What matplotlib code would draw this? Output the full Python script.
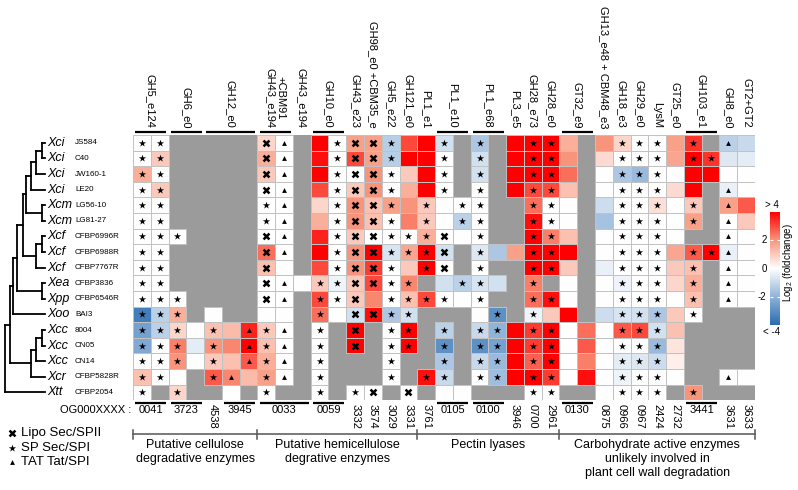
import numpy as np
import matplotlib
matplotlib.use('Agg')
import matplotlib.pyplot as plt
from matplotlib.colors import LinearSegmentedColormap, Normalize
from matplotlib.patches import Rectangle
import matplotlib.cm as cm

plt.rcParams['font.family'] = ['Liberation Sans', 'DejaVu Sans']
plt.rcParams['mathtext.fontset'] = 'custom'
plt.rcParams['mathtext.rm'] = 'Liberation Sans'

N = np.nan

species = ['Xci', 'Xci', 'Xci', 'Xci', 'Xcm', 'Xcm', 'Xcf', 'Xcf', 'Xcf', 'Xea', 'Xpp',
           'Xoo', 'Xcc', 'Xcc', 'Xcc', 'Xcr', 'Xtt']
strains = ['JS584', 'C40', 'JW160-1', 'LE20', 'LG56-10', 'LG81-27', 'CFBP6996R', 'CFBP6988R',
           'CFBP7767R', 'CFBP3836', 'CFBP6546R', 'BAI3', '8004', 'CN05', 'CN14', 'CFBP5828R',
           'CFBP2054']

family_labels = ['GH5_e124', 'GH6_e0', 'GH12_e0', '+CBM91\nGH43_e194', 'GH43_e194', 'GH10_e0',
                 'GH43_e23', 'GH98_e0 +CBM35_e', 'GH5_e22', 'GH121_e0', 'PL1_e1', 'PL1_e10',
                 'PL1_e68', 'PL3_e5', 'GH28_e73', 'GH28_e0', 'GT32_e9', 'GH13_e48 + CBM48_e3',
                 'GH18_e3', 'GH29_e0', 'LysM', 'GT25_e0', 'GH103_e1', 'GH8_e0', 'GT2+GT2']
family_widths = [2, 2, 3, 2, 1, 2, 1, 1, 1, 1, 1, 2, 2, 1, 1, 1, 2, 1, 1, 1, 1, 1, 2, 1, 1]

og_labels = ['0041', '3723', '4538', '3945', '0033', '0059', '3332', '3574', '3029', '3331',
             '3761', '0105', '0100', '3946', '0700', '2961', '0130', '0875', '0966', '0967',
             '2424', '2732', '3441', '3631', '3633']
og_widths = [2, 2, 1, 2, 3, 2, 1, 1, 1, 1, 1, 2, 2, 1, 1, 1, 2, 1, 1, 1, 1, 1, 2, 1, 1]

category_labels = ['Putative cellulose\ndegradative enzymes',
                   'Putative hemicellulose\ndegrative enzymes',
                   'Pectin lyases',
                   'Carbohydrate active enzymes\nunlikely involved in\nplant cell wall degradation']
category_widths = [7, 9, 8, 11]

# log2(fold change), NaN = gene absent (grey)
log2fc = np.array([
    [0, 0, N, N, N, N, N, 0.8, 0, N, 4, 0, 1.8, 1.8, -1.3, 3, 4, -0.8, N, -1.5, N, 4, 4, 4, 1.5, N, 2, 0.8, 0, 0, 1.8, 3.3, N, -1.2, -1.0],
    [0, 1.0, N, N, N, N, N, 1.5, 0, N, 3.8, 0, 3, 1.8, -1.3, 4, 4, 0, N, -0.8, N, 4, 4, 4, 2, N, 0.7, 0, 0, 0, 1.7, 4, 3.3, -0.6, -0.5],
    [1.5, 0, N, N, N, N, N, 1.0, 0, N, 4, 0, 0, 2, 0, 1, 4, 0, N, -0.8, N, 4, 4, 4, 2.5, N, 0, -1.5, -1.8, 0, 0, 4, 4, 0, 0],
    [0, 1.0, N, N, N, N, N, 0, 0, N, 3, 0, 1.0, 2, 0, 1.5, 4, 0, N, 0, N, 4, 3, 3, 1.2, N, 0, 0, 0, 0, 0.7, 4, N, -0.4, 0],
    [0, 0, N, N, N, N, N, 0, 0, N, 0.8, 0, 2, 1.2, 1.8, 2, 1.0, 0, 0, 0, N, N, 2.5, 0, 0, N, -0.9, 0, 0, 0.6, 0, 1.0, N, 1.8, 2.8],
    [0, 0, N, N, N, N, N, 0, 0, N, 1.5, 0, 2, 1.2, 0, 2.3, 1.0, 0, -1.2, 0, N, N, 3.8, 0, 0, N, -1.6, 0, 0, 0, 0, 1.8, N, 0, 1.0],
    [0, 0, 0, N, N, N, N, 0, 0, N, 3.5, 0, 1.0, 0, 0, 0, 1.5, 0, 0, 0, N, N, 4, 2.3, 1.2, N, 0, 0, 0, 0, 0, N, N, 0, 0],
    [0, 0, N, N, N, N, N, 2.5, 0, N, 4, 0, 2, 4, -0.7, 1.7, 4, -0.8, N, -0.6, -1.5, 1.8, 4, 4, 4, N, 0, 0, 0, 0, 1.7, 2.8, 4, -0.4, 0],
    [0, 0, N, N, N, N, N, 1.2, 0, N, 3, 0, 2, 3.2, 0, 1.0, 4, 0, N, 0, N, N, 4, 4, 1.0, N, -0.4, 0, 0, 0, 1.0, 1.2, N, 0, 0],
    [0, 0, N, N, N, N, N, 0, 0, 0, 1.0, -0.3, 1.0, 3, 0, 2.2, N, -0.8, -1.2, -0.7, -0.8, N, 2.3, N, 0, N, 0, -0.3, 0, 0, 0.8, 1.5, N, 0, 0],
    [0, 0, 0, N, N, N, N, 0, 0, N, 3, 0, 1.0, 2.2, 0, 1.2, 3, 0, 0, 0, N, N, 2.5, 3.8, 0, N, 0, 0, 0, 0, 0, 1.2, N, 0, 0],
    [-3.5, -1.2, 1.5, N, 0, N, N, 0, 0, N, 2.5, 0, -0.8, 3.8, -1.5, -0.8, N, N, N, 0, -3, N, -0.3, 1.0, 4, N, -0.9, -0.7, -0.8, -1.5, 1.0, 0, N, N, N],
    [-2.5, -1.2, 0.8, 0, 1.2, 1.3, 3.5, 1.0, 0, N, 0, N, 4, N, 0, 4, N, -1.2, N, -1.0, -2, 4, 3.2, 4, 0, 2.5, 0, 2.8, 3, -0.8, 1.2, N, N, N, N],
    [-2.3, 0, 2.3, -0.5, 2, 2.2, 4, 1.2, 0, N, 0, N, 4, N, 0, 4, N, -3, N, -3, -2.5, 4, 3.2, 4, 0, 2.8, 0, 0, 0, -1.8, 0.5, N, N, N, N],
    [0, 0, 2, 0, 1.0, 1.2, 2.8, 1.5, 0, N, 0, N, N, N, 0, N, N, -1.5, N, -1.0, -1.8, 4, 2.7, 4, 0, 2.3, 0, -0.5, -0.6, -0.9, 0.3, N, N, N, N],
    [1.2, 0, 0, N, 2.8, 2.2, 1.3, 1.8, 0, N, 0, N, N, N, 0, N, 3.8, -1, N, 0, -1.7, 4, 4, 3.2, 0, 3.8, 0, -0.3, 0, 0, 0, N, N, 0, 0],
    [0, N, 0.8, N, N, 0, N, 0, N, N, 0, N, 0, 0, N, 0, N, 0, 0, N, N, N, 0, 0, N, N, 0, 0, 0, 0, N, 2, N, N, N],
])

# signal peptide per cell: x = Lipo Sec/SPII, s = SP Sec/SPI, t = TAT Tat/SPI, . = none
signal = [
    "ss.....xt..sxxs..s.s..ss...sss.s.t.",
    "ss.....xt..sxxs..s.s..ss...sss.ss..",
    "ss.....xt..sxxs..s.s..ss...sss.....",
    "ss.....xt..sxxs..s.s..ss...sss...t.",
    "ss.....st..sxxs.s.ss..ss...sss.s.t.",
    "ss.....st..sxxs.s.ss..ss...sss.s.t.",
    "sss....xt..sxxsssx.s..ss...sss...t.",
    "ss.....xt..sxxsssx.s..ss...sss.sst.",
    "ss.....x...sxxs.sx.s..ss...sss.s.t.",
    "ss.....xt.ssxxss..ss..s....sss.s.t.",
    "sss....xt.ssx.ssss.s..ss...sss.s.t.",
    "sss.......s.xxss....s.s....sss.s...",
    "sss.s.tst.s.x.ss.s.ss.ss...sss.....",
    "sss.s.tst.s.x.ss.s.ss.ss...sss.....",
    "sss.s.tst.s...s..s.ss.ss...sss.....",
    "ss..st.st.s...s.ss.ss.ss...sss...t.",
    "s.s....s..s.sx.x......ss...sss.s...",
]

legend_labels = ['Lipo Sec/SPII', 'SP Sec/SPI', 'TAT Tat/SPI']
legend_keys = ['x', 's', 't']

# phylogeny: (node depth in px, left, right); leaves are row indices
tree = (5, (10, (13, (17, (23, (26, (31, (36, (42, 0, 1), 2), 3), (42, 4, 5)),
                            (36, (42, 6, 7), 8)),
                      (42, 9, 10)),
                 11),
            (31, (36, (42, 12, 13), 14), 15)),
        16)

# ---------------- layout ----------------
W, H = 798, 490
X0, Y0, CW, RH = 133, 135, 17.77, 15.6
nrows, ncols = log2fc.shape

cmap = LinearSegmentedColormap.from_list(
    'fc', [(0.0, '#2b6cb0'), (0.25, '#8fb3d9'), (0.5, '#ffffff'), (0.75, '#f8967c'), (1.0, '#ff0000')])
cmap.set_bad('#9b9b9b')
norm = Normalize(-4, 4)

fig = plt.figure(figsize=(W / 100, H / 100), dpi=100)
ax = fig.add_axes([X0 / W, 1 - (Y0 + RH * nrows) / H, CW * ncols / W, RH * nrows / H])
ax.set_xlim(0, ncols)
ax.set_ylim(nrows, 0)
ax.axis('off')


def px(x):
    return (x - X0) / CW


def py(y):
    return (y - Y0) / RH


ax.add_patch(Rectangle((0, 0), ncols, nrows, color='#9b9b9b', zorder=0))
ax.pcolormesh(np.arange(ncols + 1), np.arange(nrows + 1), np.ma.masked_invalid(log2fc),
              cmap=cmap, norm=norm, zorder=1)
for i in range(nrows):
    for j in range(ncols):
        if not np.isnan(log2fc[i, j]):
            ax.add_patch(Rectangle((j, i), 1, 1, fill=False, ec='#c2c2c2', lw=0.7, zorder=2))

mstyle = {'x': dict(marker='x', s=18, linewidths=1.8),
          's': dict(marker='*', s=30, linewidths=0),
          't': dict(marker='^', s=12, linewidths=0)}
for key, st in mstyle.items():
    pts = [(j + 0.5, i + 0.5) for i in range(nrows) for j in range(ncols) if signal[i][j] == key]
    if pts:
        xs, ys = zip(*pts)
        ax.scatter(xs, ys, c='k', zorder=3, **st)

# top family labels
start = 0
for lab, w in zip(family_labels, family_widths):
    ax.text(start + w / 2, py(128), lab, rotation=-90, ha='center', va='bottom', fontsize=8,
            multialignment='center', linespacing=0.95, clip_on=False)
    if w > 1:
        ax.plot([start + 0.12, start + w - 0.12], [py(132), py(132)], color='k', lw=1.6,
                solid_capstyle='butt', clip_on=False)
    start += w

# bottom OG labels
start = 0
for lab, w in zip(og_labels, og_widths):
    if w > 1:
        ax.text(start + w / 2, py(410), lab, ha='center', va='center', fontsize=8, clip_on=False)
        ax.plot([start + 0.12, start + w - 0.12], [py(402.5), py(402.5)], color='k', lw=1.6,
                solid_capstyle='butt', clip_on=False)
    else:
        ax.text(start + w / 2, py(403.5), lab, rotation=-90, ha='center', va='top', fontsize=8,
                clip_on=False)
    start += w
ax.text(px(131), py(410), 'OG000XXXX :', ha='right', va='center', fontsize=8, clip_on=False)

# category brackets
ax.plot([0, ncols], [py(434), py(434)], color='#555555', lw=1.1, clip_on=False)
start = 0
bounds = [0]
for lab, w in zip(category_labels, category_widths):
    ax.text(start + w / 2, py(439), lab, ha='center', va='top', fontsize=9,
            multialignment='center', linespacing=1.22, clip_on=False)
    start += w
    bounds.append(start)
for b in bounds:
    ax.plot([b, b], [py(430), py(438.5)], color='#555555', lw=1.1, clip_on=False)

# row labels
for i in range(nrows):
    ax.text(px(47), i + 0.5, species[i], style='italic', fontsize=9, ha='left', va='center',
            clip_on=False)
    ax.text(px(75), i + 0.5, strains[i], fontsize=5.8, ha='left', va='center', clip_on=False)


# dendrogram
def draw(node):
    if isinstance(node, int):
        return px(45), node + 0.5
    h, l, r = node
    xl, yl = draw(l)
    xr, yr = draw(r)
    xn = px(h)
    kw = dict(color='k', lw=1.3, clip_on=False, solid_capstyle='projecting')
    ax.plot([xn, xl], [yl, yl], **kw)
    ax.plot([xn, xr], [yr, yr], **kw)
    ax.plot([xn, xn], [yl, yr], **kw)
    return xn, (yl + yr) / 2


draw(tree)

# legend
for k, (lab, key) in enumerate(zip(legend_labels, legend_keys)):
    yy = py(433 + 14.5 * k)
    ax.scatter([px(12)], [yy], c='k', clip_on=False, zorder=3, **mstyle[key])
    ax.text(px(21), yy, lab, fontsize=9.5, ha='left', va='center', clip_on=False)

# colorbar
cax = fig.add_axes([770 / W, 1 - 325 / H, 10 / W, 113 / H])
sm = cm.ScalarMappable(norm=norm, cmap=cmap)
cb = fig.colorbar(sm, cax=cax)
cb.outline.set_visible(False)
cb.set_ticks([-2, 0, 2])
cax.tick_params(length=2, color='white', direction='in', labelleft=False, labelright=False,
                left=True, right=True)
tr = cax.get_yaxis_transform()
for v in (-2, 0, 2):
    cax.text(-0.35, v, str(v), transform=tr, ha='right', va='center', fontsize=7)
cax.text(0.2, 4.15, '> 4', transform=tr, ha='center', va='bottom', fontsize=7)
cax.text(0.2, -4.15, '< -4', transform=tr, ha='center', va='top', fontsize=7)
fig.text(788 / W, 1 - 263 / H, 'Log$_2$ (foldchange)', rotation=90, ha='center', va='center',
         fontsize=7)

fig.savefig('out.png', dpi=100)
